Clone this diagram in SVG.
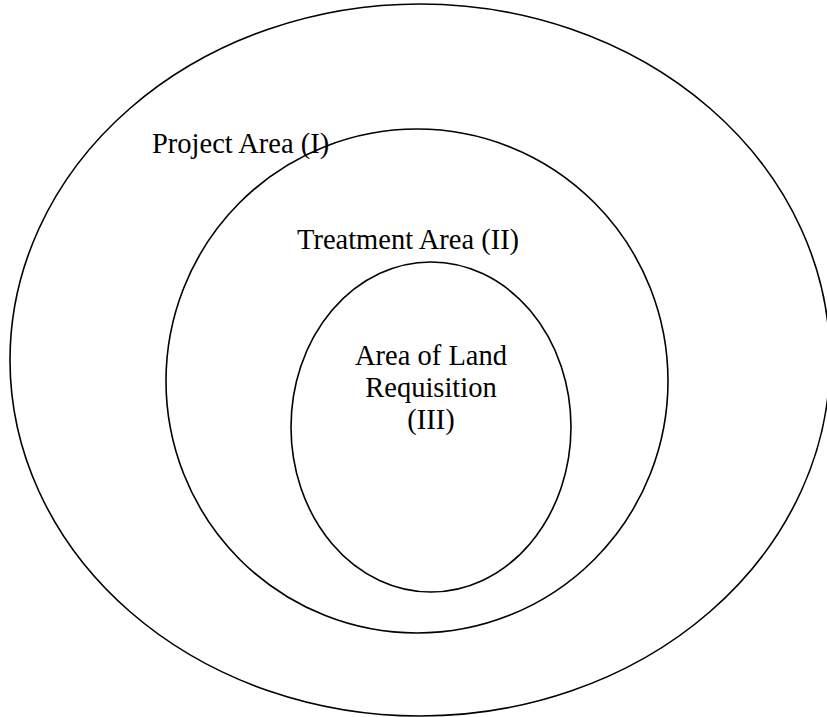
<svg xmlns="http://www.w3.org/2000/svg" width="827" height="717" viewBox="0 0 827 717">
  <style>
    .area { fill: none; stroke: #000; stroke-width: 1.6; }
    .label { font-family: "Liberation Serif", "Times New Roman", serif; font-size: 28.5px; fill: #000; }
    .mid { text-anchor: middle; }
  </style>
  <rect width="827" height="717" fill="#fff"/>

  <g id="project-area">
    <ellipse class="area" cx="420" cy="360" rx="410" ry="356"/>
    <text class="label" x="152" y="153">Project Area (I)</text>
  </g>

  <g id="treatment-area">
    <ellipse class="area" cx="417" cy="381" rx="251" ry="252"/>
    <text class="label" x="297" y="249">Treatment Area (II)</text>
  </g>

  <g id="land-requisition">
    <ellipse class="area" cx="431" cy="427" rx="140" ry="165"/>
    <text class="label mid" x="431" y="365">Area of Land</text>
    <text class="label mid" x="431" y="397">Requisition</text>
    <text class="label mid" x="431" y="429">(III)</text>
  </g>

  <g id="connectors"/>
</svg>
